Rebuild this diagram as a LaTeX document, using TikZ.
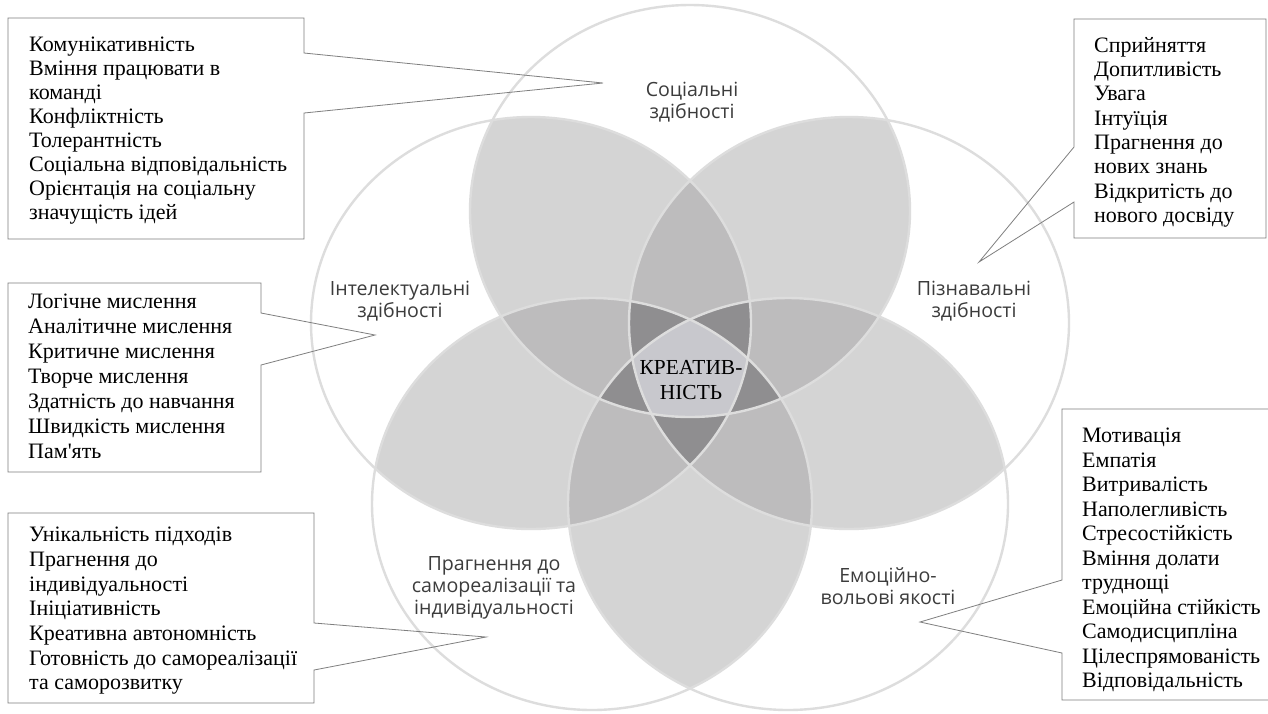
\documentclass[tikz,border=0pt]{standalone}
\usepackage{fontspec}
\setmainfont{Liberation Serif}[Ligatures=TeXOff]
\newfontfamily\lblfont{Open Sans}
\definecolor{lg}{HTML}{D4D4D4}
\definecolor{mg}{HTML}{BDBCBD}
\definecolor{dg}{HTML}{8F8E90}
\definecolor{cg}{HTML}{C8C8CD}
\definecolor{ringc}{HTML}{DDDDDD}
\definecolor{lblc}{HTML}{3C3C3C}
\definecolor{boxc}{HTML}{7F7F7F}
\def\EA{(690,211) ellipse [x radius=220pt, y radius=206pt]}
\def\EB{(849,323) ellipse [x radius=220pt, y radius=206pt]}
\def\EC{(788,504) ellipse [x radius=220pt, y radius=206pt]}
\def\ED{(592,504) ellipse [x radius=220pt, y radius=206pt]}
\def\EE{(531,323) ellipse [x radius=220pt, y radius=206pt]}
\newcommand\regfill[2]{\begin{scope}#1\fill[#2] (0,0) rectangle (1268,713);\end{scope}}
\begin{document}
\begin{tikzpicture}[x=1pt,y=-1pt,
  ring/.style={draw=ringc, line width=2.4pt},
  lbl/.style={font=\lblfont\fontsize{19.6}{22.3}\selectfont, text=lblc, align=center, inner sep=0pt},
  boxtext/.style={align=left, inner sep=0pt, anchor=north west},
  callout/.style={draw=boxc, line width=0.8pt}]
\useasboundingbox (0,0) rectangle (1268,713);
\fill[white] (0,0) rectangle (1268,713);
% two-circle overlaps
\regfill{\clip \EA; \clip \EB;}{lg}
\regfill{\clip \EA; \clip \EC;}{lg}
\regfill{\clip \EA; \clip \ED;}{lg}
\regfill{\clip \EA; \clip \EE;}{lg}
\regfill{\clip \EB; \clip \EC;}{lg}
\regfill{\clip \EB; \clip \ED;}{lg}
\regfill{\clip \EB; \clip \EE;}{lg}
\regfill{\clip \EC; \clip \ED;}{lg}
\regfill{\clip \EC; \clip \EE;}{lg}
\regfill{\clip \ED; \clip \EE;}{lg}
% three-circle overlaps
\regfill{\clip \EA; \clip \EB; \clip \EC;}{mg}
\regfill{\clip \EA; \clip \EB; \clip \ED;}{mg}
\regfill{\clip \EA; \clip \EB; \clip \EE;}{mg}
\regfill{\clip \EA; \clip \EC; \clip \ED;}{mg}
\regfill{\clip \EA; \clip \EC; \clip \EE;}{mg}
\regfill{\clip \EA; \clip \ED; \clip \EE;}{mg}
\regfill{\clip \EB; \clip \EC; \clip \ED;}{mg}
\regfill{\clip \EB; \clip \EC; \clip \EE;}{mg}
\regfill{\clip \EB; \clip \ED; \clip \EE;}{mg}
\regfill{\clip \EC; \clip \ED; \clip \EE;}{mg}
% four-circle overlaps
\regfill{\clip \EA; \clip \EB; \clip \EC; \clip \ED;}{dg}
\regfill{\clip \EA; \clip \EB; \clip \EC; \clip \EE;}{dg}
\regfill{\clip \EA; \clip \EB; \clip \ED; \clip \EE;}{dg}
\regfill{\clip \EA; \clip \EC; \clip \ED; \clip \EE;}{dg}
\regfill{\clip \EB; \clip \EC; \clip \ED; \clip \EE;}{dg}
% all five
\regfill{\clip \EA; \clip \EB; \clip \EC; \clip \ED; \clip \EE;}{cg}
% outlines
\draw[ring] \EA; \draw[ring] \EB; \draw[ring] \EC; \draw[ring] \ED; \draw[ring] \EE;
% circle labels
\node[lbl] (soc) at (692,102) {Соціальні\\здібності};
\node[lbl] (int) at (400,301) {Інтелектуальні\\здібності};
\node[lbl] (piz) at (974,301) {Пізнавальні\\здібності};
\node[lbl] (prag) at (494,588) {Прагнення до\\самореалізації та\\індивідуальності};
\node[lbl] (emo) at (888,586) {Емоційно-\\вольові якості};
\node[align=center, inner sep=0pt, font=\fontsize{21.4}{25}\selectfont] (kre) at (691,380) {КРЕАТИВ-\\НІСТЬ};
% callout tips
\coordinate (t1) at (603,83);
\coordinate (t2) at (375,335);
\coordinate (t3) at (486,637);
\coordinate (t4) at (979,262);
\coordinate (t5) at (920,622);
% callout boxes
\draw[callout] (8,18) -- (304,18) -- (304,53) -- (t1) -- (304,113) -- (304,239) -- (8,239) -- cycle;
\draw[callout] (8,283) -- (261,283) -- (261,313) -- (t2) -- (261,365) -- (261,472) -- (8,472) -- cycle;
\draw[callout] (8,513) -- (314,513) -- (314,623) -- (t3) -- (314,670) -- (314,703) -- (8,703) -- cycle;
\draw[callout] (1074,19) -- (1266,19) -- (1266,238) -- (1074,238) -- (1074,202) -- (t4) -- (1074,147) -- cycle;
\draw[callout] (1062,409) -- (1270,409) -- (1270,700) -- (1062,700) -- (1062,653) -- (t5) -- (1062,580) -- cycle;
% box texts
\node[boxtext, font=\fontsize{22}{23.9}\selectfont] (b1) at (29,37) {Комунікативність\\Вміння працювати в\\команді\\Конфліктність\\Толерантність\\Соціальна відповідальність\\Орієнтація на соціальну\\значущість ідей};
\node[boxtext, font=\fontsize{22}{25}\selectfont] (b2) at (28,294) {Логічне мислення\\Аналітичне мислення\\Критичне мислення\\Творче мислення\\Здатність до навчання\\Швидкість мислення\\Пам'ять};
\node[boxtext, font=\fontsize{22}{24.7}\selectfont] (b3) at (29,527) {Унікальність підходів\\Прагнення до\\індивідуальності\\Ініціативність\\Креативна автономність\\Готовність до самореалізації\\та саморозвитку};
\node[boxtext, font=\fontsize{22}{24.3}\selectfont] (b4) at (1094,37) {Сприйняття\\Допитливість\\Увага\\Інтуїція\\Прагнення до\\нових знань\\Відкритість до\\нового досвіду};
\node[boxtext, font=\fontsize{22}{24.5}\selectfont] (b5) at (1082,428) {Мотивація\\Емпатія\\Витривалість\\Наполегливість\\Стресостійкість\\Вміння долати\\труднощі\\Емоційна стійкість\\Самодисципліна\\Цілеспрямованість\\Відповідальність};
\end{tikzpicture}
\end{document}
